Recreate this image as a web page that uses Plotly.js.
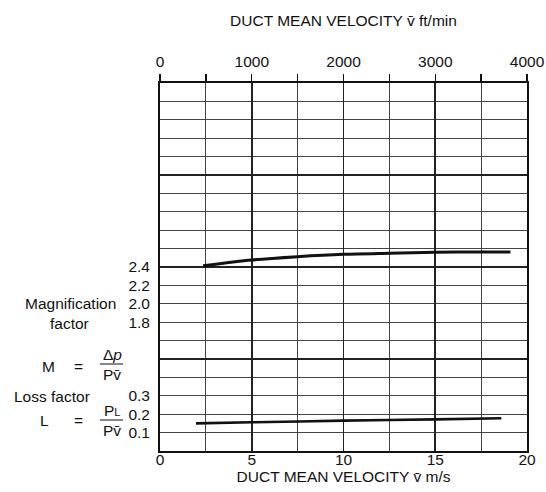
<!DOCTYPE html>
<html>
<head>
<meta charset="utf-8">
<script src="https://cdn.plot.ly/plotly-3.0.1.min.js"></script>
<style>
  html, body { margin: 0; padding: 0; background: #fff; }
  #chart { width: 546px; height: 492px; }
</style>
</head>
<body>
<div id="chart"></div>
<script>
// Duct mean velocity (m/s) and read-off values
const magVelocity = [2.35, 5.0, 7.5, 10.0, 12.5, 15.0, 17.5, 19.1];
const magFactor   = [2.414, 2.476, 2.512, 2.538, 2.550, 2.560, 2.563, 2.563];
const lossVelocity = [1.96, 5.0, 10.0, 15.0, 18.6];
const lossFactor   = [0.150, 0.156, 0.165, 0.172, 0.178];

const magTicks  = [1.8, 2.0, 2.2, 2.4];
const lossTicks = [0.1, 0.2, 0.3];
const fpmRange  = [0, 4000];
const msRange   = [0, 20];

const FONT = '"Liberation Sans", Arial, Helvetica, sans-serif';
const FS = 15.5;
const INK = '#111';

// pixel -> paper helpers for the side legend text (plot area 160..527 x 83..451)
const L0 = 160, R0 = 527, T0 = 83, B0 = 451;
const px = x => (x - L0) / (R0 - L0);
const py = y => (B0 - y) / (B0 - T0);

function ann(text, x, y, extra) {
  return Object.assign({
    text: text, xref: 'paper', yref: 'paper', x: px(x), y: py(y),
    xanchor: 'center', yanchor: 'middle', showarrow: false,
    font: { family: FONT, size: FS, color: INK }
  }, extra || {});
}

const traces = [
  // empty traces so the grid axis and the top ft/min axis are built
  { x: [], y: [], xaxis: 'x', yaxis: 'y', type: 'scatter', mode: 'lines', hoverinfo: 'skip' },
  { x: [], y: [], xaxis: 'x2', yaxis: 'y', type: 'scatter', mode: 'lines', hoverinfo: 'skip' },
  { x: magVelocity, y: magFactor, xaxis: 'x', yaxis: 'y3', type: 'scatter', mode: 'lines',
    line: { color: INK, width: 3, shape: 'spline', smoothing: 0.8 }, hoverinfo: 'skip' },
  { x: lossVelocity, y: lossFactor, xaxis: 'x', yaxis: 'y2', type: 'scatter', mode: 'lines',
    line: { color: INK, width: 2.6, shape: 'spline', smoothing: 0.6 }, hoverinfo: 'skip' }
];

const layout = {
  width: 546, height: 492,
  margin: { l: L0, r: 546 - R0, t: T0, b: 492 - B0, pad: 0 },
  paper_bgcolor: '#fff', plot_bgcolor: '#fff',
  showlegend: false,
  font: { family: FONT, size: FS, color: INK },
  xaxis: {
    range: msRange, dtick: 5, tick0: 0, ticks: '', showline: true, mirror: true,
    linecolor: INK, linewidth: 2, zeroline: false,
    showgrid: true, gridcolor: '#222', gridwidth: 1.6,
    minor: { dtick: 2.5, showgrid: true, gridcolor: '#444', gridwidth: 1 },
    tickfont: { family: FONT, size: FS, color: INK },
    ticklabelstandoff: -7,
    title: { text: 'DUCT MEAN VELOCITY v\u0304 m/s', standoff: 5,
             font: { family: FONT, size: FS, color: INK } },
    automargin: false, fixedrange: true
  },
  xaxis2: {
    overlaying: 'x', side: 'top', anchor: 'y', range: fpmRange, dtick: 1000, tick0: 0,
    ticks: 'outside', ticklen: 8, tickwidth: 1.3, tickcolor: INK,
    minor: { dtick: 500, ticks: 'outside', ticklen: 8, tickwidth: 1.3, tickcolor: INK, showgrid: false },
    showgrid: false, zeroline: false, showline: false,
    tickfont: { family: FONT, size: FS, color: INK },
    ticklabelstandoff: 1,
    title: { text: 'DUCT MEAN VELOCITY v\u0304 ft/min', standoff: 22,
             font: { family: FONT, size: FS, color: INK } },
    automargin: false, fixedrange: true
  },
  yaxis: {
    range: [0, 20], dtick: 5, tick0: 0, showticklabels: false, ticks: '',
    showline: true, mirror: true, linecolor: INK, linewidth: 2, zeroline: false,
    showgrid: true, gridcolor: '#222', gridwidth: 1.6,
    minor: { dtick: 1, showgrid: true, gridcolor: '#444', gridwidth: 1 },
    automargin: false, fixedrange: true
  },
  yaxis2: {
    overlaying: 'y', side: 'left', anchor: 'x', range: [0, 2],
    tickmode: 'array', tickvals: lossTicks, tickformat: '.1f',
    ticks: '', showgrid: false, zeroline: false, showline: false,
    tickfont: { family: FONT, size: FS, color: INK }, ticklabelstandoff: 9,
    automargin: false, fixedrange: true
  },
  yaxis3: {
    overlaying: 'y', side: 'left', anchor: 'x', range: [0.4, 4.4],
    tickmode: 'array', tickvals: magTicks, tickformat: '.1f',
    ticks: '', showgrid: false, zeroline: false, showline: false,
    tickfont: { family: FONT, size: FS, color: INK }, ticklabelstandoff: 9,
    automargin: false, fixedrange: true
  },
  annotations: [
    ann('Magnification', 70, 303),
    ann('factor', 69, 323),
    ann('M', 48, 366),
    ann('=', 78, 366),
    ann('\u0394<i>p</i>', 112, 354),
    ann('Pv\u0304', 112, 374),
    ann('Loss factor', 52, 396),
    ann('L', 45, 420),
    ann('=', 78, 420),
    ann('P<span style="font-size:11px">L</span>', 112, 410),
    ann('Pv\u0304', 112, 430)
  ],
  shapes: [
    { type: 'line', xref: 'paper', yref: 'paper', x0: px(100), x1: px(123), y0: py(364), y1: py(364),
      line: { color: INK, width: 1 } },
    { type: 'line', xref: 'paper', yref: 'paper', x0: px(100), x1: px(123), y0: py(420), y1: py(420),
      line: { color: INK, width: 1 } }
  ]
};

Plotly.newPlot('chart', traces, layout, { displayModeBar: false, staticPlot: true });
</script>
</body>
</html>
